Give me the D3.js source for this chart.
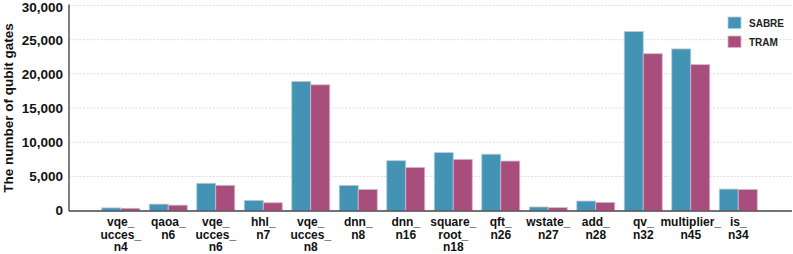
<!DOCTYPE html>
<html><head><meta charset="utf-8">
<script src="https://cdn.jsdelivr.net/npm/d3@7"></script>
<style>body{margin:0;background:#fff}svg{display:block}text{font-family:"Liberation Sans",Arial,sans-serif}</style>
</head><body><svg id="c" width="793" height="254"></svg>
<script>
const categories = [["vqe_","ucces_","n4"],["qaoa_","n6"],["vqe_","ucces_","n6"],["hhl_","n7"],["vqe_","ucces_","n8"],["dnn_","n8"],["dnn_","n16"],["square_","root_","n18"],["qft_","n26"],["wstate_","n27"],["add_","n28"],["qv_","n32"],["multiplier_","n45"],["is_","n34"]];
const seriesNames = ["SABRE","TRAM"];
const sabre = [400, 950, 4000, 1500, 18900, 3700, 7300, 8480, 8250, 530, 1400, 26200, 23650, 3150];
const tram  = [340, 800, 3700, 1150, 18400, 3100, 6300, 7500, 7250, 430, 1200, 22950, 21350, 3100];
const yTicks = [0, 5000, 10000, 15000, 20000, 25000, 30000];
const colors = ["#4393b5", "#a84e7d"];

const svg = d3.select("#c");
const pL = 69, pR = 792, pT = 5.5, pB = 210.6;
const y = d3.scaleLinear().domain([0, 30000]).range([pB, pT]);
const x = d3.scaleBand().domain(d3.range(categories.length)).range([97, 762]).paddingInner(0.2).paddingOuter(0.1);
const xs = d3.scaleBand().domain(seriesNames).range([0, x.bandwidth()]);

// grid
svg.append("g").selectAll("line").data(yTicks.slice(1)).join("line")
  .attr("x1", pL).attr("x2", pR).attr("y1", d => y(d)).attr("y2", d => y(d))
  .attr("stroke", "#ddd").attr("stroke-width", 1).attr("stroke-dasharray", "2,1.5");

// y axis labels
const yAxis = d3.axisLeft(y).tickValues(yTicks).tickFormat(d3.format(",")).tickSize(0).tickPadding(6);
const gy = svg.append("g").attr("transform", `translate(${pL},0)`).call(yAxis);
gy.select(".domain").remove();
gy.selectAll("text").attr("font-size", 13.5).attr("font-weight", "bold").attr("fill", "#111")
  .attr("font-family", "Liberation Sans, Arial, sans-serif")
  .attr("dy", d => d === 30000 ? "0.45em" : "0.32em");

// bars
const data = [sabre, tram];
const g = svg.append("g");
categories.forEach((c, i) => {
  seriesNames.forEach((s, j) => {
    g.append("rect")
      .attr("x", x(i) + xs(s)).attr("width", xs.bandwidth())
      .attr("y", y(data[j][i])).attr("height", y(0) - y(data[j][i]))
      .attr("fill", colors[j]).attr("stroke", j === 0 ? "#a9d3e6" : "#e3b0cb").attr("stroke-width", 0.8);
  });
});

// axis lines
svg.append("line").attr("x1", pL).attr("x2", pL).attr("y1", pT - 1).attr("y2", pB + 0.5).attr("stroke", "#555").attr("stroke-width", 1.5);
svg.append("line").attr("x1", pL).attr("x2", pR).attr("y1", pB + 0.5).attr("y2", pB + 0.5).attr("stroke", "#444").attr("stroke-width", 1.5);

// x labels
const xl = svg.append("g");
categories.forEach((c, i) => {
  const t = xl.append("text").attr("text-anchor", "middle").attr("font-size", 12).attr("font-weight", "bold").attr("fill", "#111");
  c.forEach((line, k) => {
    t.append("tspan").attr("x", x(i) + x.bandwidth() / 2).attr("y", 226 + k * 12.6).text(line);
  });
});

// y title
svg.append("text").attr("transform", `translate(13,${(pT + pB) / 2}) rotate(-90)`)
  .attr("text-anchor", "middle").attr("font-size", 13.5).attr("font-weight", "bold").attr("fill", "#111")
  .text("The number of qubit gates");

// legend
const lg = svg.append("g").attr("transform", "translate(728,17)");
seriesNames.forEach((s, j) => {
  lg.append("rect").attr("x", 0).attr("y", j * 19).attr("width", 13).attr("height", 11.5).attr("fill", colors[j])
    .attr("stroke", j === 0 ? "#a9d3e6" : "#e3b0cb").attr("stroke-width", 0.8);
  lg.append("text").attr("x", 21).attr("y", j * 19 + 9.8).attr("font-size", 10).attr("font-weight", "bold").attr("fill", "#222").text(s);
});
</script></body></html>
